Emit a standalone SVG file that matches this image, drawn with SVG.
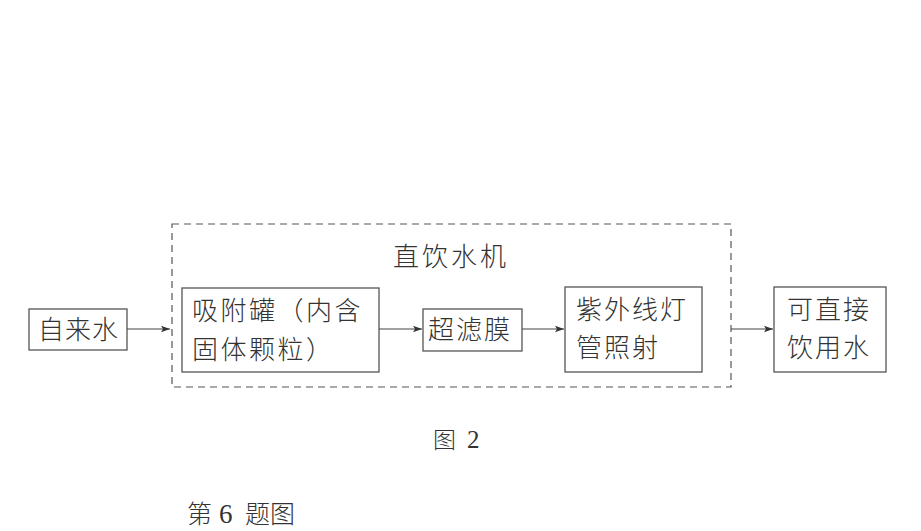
<svg xmlns="http://www.w3.org/2000/svg" width="921" height="531" viewBox="0 0 921 531">
<defs>
<style>
.box{fill:#fff;stroke:#555;stroke-width:1.3}
.dash{fill:none;stroke:#555;stroke-width:1.2;stroke-dasharray:7 5}
.t{font-family:"Noto Sans CJK SC","Liberation Serif",serif;font-size:26px;fill:#333;font-weight:300;letter-spacing:2px}
.cap{font-family:"Noto Sans CJK SC","Liberation Serif",serif;fill:#333;font-weight:300}
.num{font-family:"Liberation Serif",serif}
.conn line{stroke:#444;stroke-width:1.2;marker-end:url(#ah)}
</style>
<marker id="ah" markerWidth="10" markerHeight="8" refX="9" refY="4" orient="auto" markerUnits="userSpaceOnUse">
<path d="M0,0.8 L9,4 L0,7.2 L2,4 Z" fill="#333"/>
</marker>
</defs>
<rect width="921" height="531" fill="#fff"/>
<g id="machine">
<rect class="dash" x="172" y="224" width="559" height="163"/>
<text class="t" x="393" y="266" style="letter-spacing:3px">直饮水机</text>
</g>
<g id="tap">
<rect class="box" x="29" y="309" width="98" height="41"/>
<text class="t" x="38" y="339" style="letter-spacing:1px">自来水</text>
</g>
<g id="adsorb">
<rect class="box" x="182" y="288" width="197" height="84"/>
<text class="t" x="192" y="320" style="letter-spacing:2.5px">吸附罐（内含</text>
<text class="t" x="192" y="359" style="letter-spacing:2.5px">固体颗粒）</text>
</g>
<g id="uf">
<rect class="box" x="423" y="309" width="99" height="42"/>
<text class="t" x="428" y="339">超滤膜</text>
</g>
<g id="uv">
<rect class="box" x="565" y="287" width="137" height="85"/>
<text class="t" x="576" y="319">紫外线灯</text>
<text class="t" x="576" y="357">管照射</text>
</g>
<g id="out">
<rect class="box" x="774" y="287" width="112" height="85"/>
<text class="t" x="787" y="319">可直接</text>
<text class="t" x="787" y="357">饮用水</text>
</g>
<g class="conn" id="connectors">
<line x1="127" y1="329" x2="170" y2="329"/>
<line x1="379" y1="329" x2="422" y2="329"/>
<line x1="522" y1="329" x2="564" y2="329"/>
<line x1="731" y1="329" x2="773" y2="329"/>
</g>
<text class="cap" x="433" y="448" font-size="23">图<tspan class="num" x="467" font-size="25">2</tspan></text>
<text class="cap" x="187" y="523" font-size="25">第<tspan class="num" x="219" font-size="27">6</tspan><tspan x="245">题图</tspan></text>
</svg>
